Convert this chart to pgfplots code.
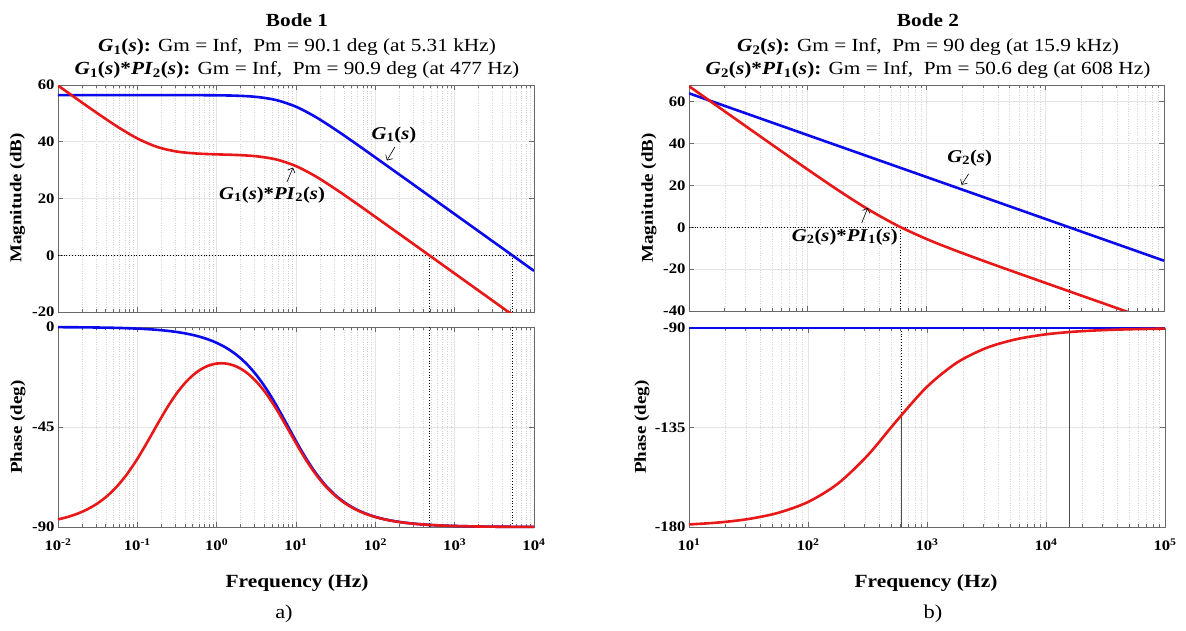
\documentclass[border=0pt]{standalone}
\usepackage{fontspec}
\setmainfont{Liberation Serif}[FakeStretch=1.15]
\usepackage{pgfplots}
\pgfplotsset{compat=1.18}
\usetikzlibrary{arrows.meta}
\definecolor{mblue}{RGB}{10,10,235}
\definecolor{mred}{RGB}{232,24,24}
\definecolor{axgray}{RGB}{105,105,105}
\newcommand{\Gs}[1]{\textbf{\textit{G}\textsubscript{#1}(\textit{s})}}
\newcommand{\PIs}[1]{\textbf{\textit{PI}\textsubscript{#1}(\textit{s})}}
\newcommand{\fsz}[1]{\fontsize{#1}{#1}\selectfont}

\pgfplotstableread{
f m
0.01 56.44
0.03162 56.44
0.1 56.44
0.3162 56.43
0.5623 56.42
1 56.37
1.778 56.23
3.162 55.81
5.623 54.70
10 52.35
17.78 48.70
31.62 44.23
56.23 39.42
100 34.47
177.8 29.49
316.2 24.50
562.3 19.50
1000 14.50
1778 9.50
3162 4.50
5623 -0.50
10000 -5.50
}\GoneMag

\pgfplotstableread{
f m
0.01 59.82
0.01778 54.86
0.03162 49.97
0.05623 45.29
0.1 41.18
0.1778 38.17
0.3162 36.53
0.5623 35.85
1 35.56
1.778 35.34
3.162 34.89
5.623 33.77
10 31.42
17.78 27.77
31.62 23.30
56.23 18.49
100 13.54
177.8 8.56
316.2 3.57
562.3 -1.43
1000 -6.43
1778 -11.43
3162 -16.43
5623 -21.43
}\GonePIMag

\pgfplotstableread{
f p
0.01 -0.07
0.013335 -0.10
0.017783 -0.13
0.023714 -0.17
0.031623 -0.23
0.04217 -0.30
0.056234 -0.40
0.074989 -0.54
0.1 -0.72
0.13335 -0.95
0.17783 -1.27
0.23714 -1.70
0.31623 -2.26
0.4217 -3.02
0.56234 -4.02
0.74989 -5.36
1 -7.13
1.3335 -9.46
1.7783 -12.53
2.3714 -16.51
3.1623 -21.57
4.217 -27.80
5.6234 -35.11
7.4989 -43.15
10 -51.34
13.335 -59.04
17.783 -65.78
23.714 -71.36
31.623 -75.80
42.17 -79.26
56.234 -81.90
74.989 -83.91
100 -85.43
133.35 -86.57
177.83 -87.42
237.14 -88.07
316.23 -88.55
421.7 -88.91
562.34 -89.19
749.89 -89.39
1000 -89.54
1778 -89.74
3162 -89.86
5623 -89.92
10000 -89.95
}\GonePh

\pgfplotstableread{
f p
0.01 -86.58
0.013335 -85.45
0.017783 -83.94
0.023714 -81.94
0.031623 -79.32
0.04217 -75.88
0.056234 -71.47
0.074989 -65.96
0.1 -59.35
0.13335 -51.84
0.17783 -43.95
0.23714 -36.37
0.31623 -29.67
0.4217 -24.27
0.56234 -20.28
0.74989 -17.69
1 -16.44
1.3335 -16.48
1.7783 -17.80
2.3714 -20.47
3.1623 -24.54
4.217 -30.03
5.6234 -36.78
7.4989 -44.40
10 -52.28
13.335 -59.75
17.783 -66.31
23.714 -71.76
31.623 -76.10
42.17 -79.48
56.234 -82.07
74.989 -84.04
100 -85.52
133.35 -86.64
177.83 -87.48
237.14 -88.11
316.23 -88.58
421.7 -88.93
562.34 -89.21
749.89 -89.40
1000 -89.55
1778 -89.75
3162 -89.86
5623 -89.92
10000 -89.95
}\GonePIPh

\pgfplotstableread{
f m
10 67.42
17.78 57.43
31.62 47.44
56.23 37.47
100 27.59
177.8 17.94
316.2 8.88
562.3 0.97
1000 -5.59
1778 -11.23
3162 -16.45
5623 -21.53
10000 -26.55
17783 -31.56
31623 -36.56
56234 -41.56
}\GtwoPIMag

\pgfplotstableread{
f p
10 -178.85
17.78 -177.96
31.62 -176.38
56.23 -173.58
100 -168.69
177.8 -160.43
316.2 -147.68
562.3 -131.64
1000 -116.57
1778 -105.71
3162 -98.99
5623 -95.08
10000 -92.86
17783 -91.61
31623 -90.91
56234 -90.51
100000 -90.29
}\GtwoPIPh

\pgfplotsset{
  every axis/.append style={
    scale only axis,
    axis line style={axgray, line width=0.8pt},
    major tick length=5pt, minor tick length=3pt,
    tick align=inside,
    xmajorgrids, ymajorgrids, xminorgrids,
    major grid style={gray!20, line width=0.6pt},
    minor grid style={gray!35, dotted, line width=0.5pt},
    tick style={axgray, line width=0.6pt},
    ticklabel style={font=\bfseries\fsz{14.5}},
    xticklabel style={yshift=-8pt},
  },
}

\begin{document}
\begin{tikzpicture}[x=1pt,y=1pt]
\path[use as bounding box] (0,0) rectangle (1186,630);

% ---------- Bode 1 magnitude
\begin{axis}[xmode=log, at={(58pt,318pt)}, anchor=south west,
  width=476pt, height=227pt, ymin=-20, ymax=60, xmin=0.01, xmax=10000,
  xtick={0.01,0.1,1,10,100,1000,10000},
  minor xtick={0.02,0.03,0.04,0.05,0.06,0.07,0.08,0.09,0.2,0.3,0.4,0.5,0.6,0.7,0.8,0.9,2,3,4,5,6,7,8,9,20,30,40,50,60,70,80,90,200,300,400,500,600,700,800,900,2000,3000,4000,5000,6000,7000,8000,9000},
  ytick={-20,0,20,40,60}, yticklabels={-20,0,20,40,60}, xticklabels={}]
\addplot[black, dotted, line width=0.8pt] coordinates {(0.01,0) (10000,0)};
\addplot[black, dotted, line width=0.8pt] coordinates {(477,0) (477,-20)};
\addplot[black, dotted, line width=0.8pt] coordinates {(5310,0) (5310,-20)};
\addplot[mblue, line width=2.6pt, smooth] table[x=f,y=m] {\GoneMag};
\addplot[mred, line width=2.6pt, smooth] table[x=f,y=m] {\GonePIMag};
\node[font=\fsz{18}] at (axis cs:172,42.4) {\Gs{1}};
\draw[-{Straight Barb[length=4pt]}, line width=0.6pt] (axis cs:177,38.2) -- (axis cs:140,33.4);
\node[font=\fsz{18}] at (axis cs:4.99,21.3) {\Gs{1}\textbf{*}\PIs{2}};
\draw[-{Straight Barb[length=4pt]}, line width=0.6pt] (axis cs:7.7,25.8) -- (axis cs:9.16,30.9);
\end{axis}

% ---------- Bode 1 phase
\begin{axis}[xmode=log, at={(58pt,103pt)}, anchor=south west,
  width=476pt, height=200pt, ymin=-90, ymax=0, xmin=0.01, xmax=10000, clip=false,
  xtick={0.01,0.1,1,10,100,1000,10000},
  minor xtick={0.02,0.03,0.04,0.05,0.06,0.07,0.08,0.09,0.2,0.3,0.4,0.5,0.6,0.7,0.8,0.9,2,3,4,5,6,7,8,9,20,30,40,50,60,70,80,90,200,300,400,500,600,700,800,900,2000,3000,4000,5000,6000,7000,8000,9000},
  ytick={-90,-45,0}, yticklabels={-90,-45,0},
  xticklabels={10\textsuperscript{-2},10\textsuperscript{-1},10\textsuperscript{0},10\textsuperscript{1},10\textsuperscript{2},10\textsuperscript{3},10\textsuperscript{4}}]
\addplot[black, dotted, line width=0.8pt] coordinates {(477,0) (477,-90)};
\addplot[black, dotted, line width=0.8pt] coordinates {(5310,0) (5310,-90)};
\addplot[mblue, line width=2.6pt, smooth] table[x=f,y=p] {\GonePh};
\addplot[mred, line width=2.6pt, smooth] table[x=f,y=p] {\GonePIPh};
\end{axis}

% ---------- Bode 2 magnitude
\begin{axis}[xmode=log, at={(689pt,319pt)}, anchor=south west,
  width=475pt, height=226pt, ymin=-40, ymax=68, xmin=10, xmax=100000,
  xtick={10,100,1000,10000,100000},
  minor xtick={20,30,40,50,60,70,80,90,200,300,400,500,600,700,800,900,2000,3000,4000,5000,6000,7000,8000,9000,20000,30000,40000,50000,60000,70000,80000,90000},
  ytick={-40,-20,0,20,40,60}, yticklabels={-40,-20,0,20,40,60}, xticklabels={}]
\addplot[black, dotted, line width=0.8pt] coordinates {(10,0) (100000,0)};
\addplot[black, dotted, line width=0.8pt] coordinates {(608,0) (608,-40)};
\addplot[black, dotted, line width=0.8pt] coordinates {(15900,0) (15900,-40)};
\addplot[mblue, line width=2.6pt] coordinates {(10,64.03) (100000,-15.97)};
\addplot[mred, line width=2.6pt, smooth] table[x=f,y=m] {\GtwoPIMag};
\node[font=\fsz{18}] at (axis cs:2307,33.2) {\Gs{2}};
\draw[-{Straight Barb[length=4pt]}, line width=0.6pt] (axis cs:2265,25.6) -- (axis cs:1977,20.3);
\node[font=\fsz{18}] at (axis cs:205,-4.6) {\Gs{2}\textbf{*}\PIs{1}};
\draw[-{Straight Barb[length=4pt]}, line width=0.6pt] (axis cs:285,2.1) -- (axis cs:320,9.3);
\end{axis}

% ---------- Bode 2 phase
\begin{axis}[xmode=log, at={(689pt,103pt)}, anchor=south west,
  width=476pt, height=199pt, ymin=-180, ymax=-90, xmin=10, xmax=100000, clip=false,
  xtick={10,100,1000,10000,100000},
  minor xtick={20,30,40,50,60,70,80,90,200,300,400,500,600,700,800,900,2000,3000,4000,5000,6000,7000,8000,9000,20000,30000,40000,50000,60000,70000,80000,90000},
  ytick={-180,-135,-90}, yticklabels={-180,-135,-90},
  xticklabels={10\textsuperscript{1},10\textsuperscript{2},10\textsuperscript{3},10\textsuperscript{4},10\textsuperscript{5}}]
\addplot[black, dotted, line width=0.8pt] coordinates {(608,-90) (608,-129.43)};
\addplot[black!70, line width=1pt] coordinates {(608,-180) (608,-129.43)};
\addplot[black!70, line width=1pt] coordinates {(15900,-180) (15900,-90)};
\addplot[mblue, line width=2.6pt] coordinates {(10,-90) (100000,-90)};
\addplot[mred, line width=2.6pt, smooth] table[x=f,y=p] {\GtwoPIPh};
\end{axis}

% ---------- labels
\node[rotate=90, font=\bfseries\fsz{16.5}] at (17.5,432) {Magnitude (dB)};
\node[rotate=90, font=\bfseries\fsz{16.5}] at (18,203) {Phase (deg)};
\node[rotate=90, font=\bfseries\fsz{16.5}] at (649,432) {Magnitude (dB)};
\node[rotate=90, font=\bfseries\fsz{16.5}] at (642,203) {Phase (deg)};
\node[font=\bfseries\fsz{18.6}] at (297,47) {Frequency (Hz)};
\node[font=\bfseries\fsz{18.6}] at (926,47) {Frequency (Hz)};
\node[font=\fsz{19.5}] at (284,16) {a)};
\node[font=\fsz{19.5}] at (933,16) {b)};

% ---------- titles
\node[anchor=base, font=\bfseries\fsz{18.5}] at (297,603) {Bode 1};
\node[anchor=base, font=\fsz{18.5}] at (297,578) {\Gs{1}\textbf{:} Gm = Inf,\ \ Pm = 90.1 deg (at 5.31 kHz)};
\node[anchor=base, font=\fsz{18.5}] at (297,555) {\Gs{1}\textbf{*}\PIs{2}\textbf{:} Gm = Inf,\ \ Pm = 90.9 deg (at 477 Hz)};
\node[anchor=base, font=\bfseries\fsz{18.5}] at (928,603) {Bode 2};
\node[anchor=base, font=\fsz{18.5}] at (928,578) {\Gs{2}\textbf{:} Gm = Inf,\ \ Pm = 90 deg (at 15.9 kHz)};
\node[anchor=base, font=\fsz{18.5}] at (928,555) {\Gs{2}\textbf{*}\PIs{1}\textbf{:} Gm = Inf,\ \ Pm = 50.6 deg (at 608 Hz)};
\end{tikzpicture}
\end{document}
